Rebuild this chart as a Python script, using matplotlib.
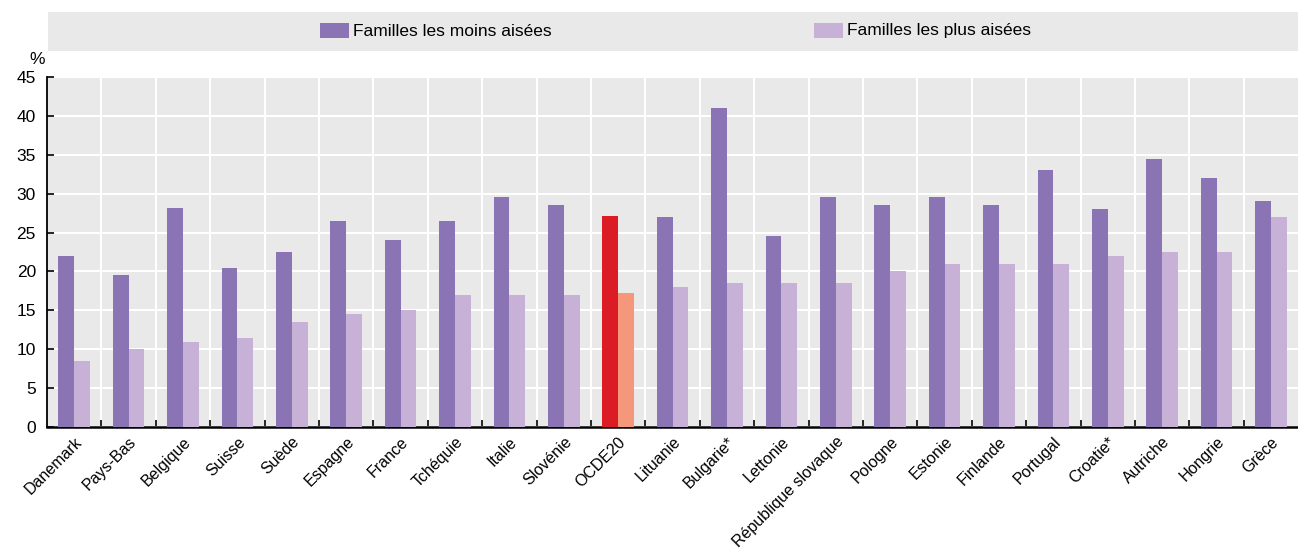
import matplotlib
matplotlib.use("Agg")
import matplotlib.pyplot as plt
from matplotlib.patches import Rectangle
import numpy as np

categories = ["Danemark", "Pays-Bas", "Belgique", "Suisse", "Suède", "Espagne", "France",
              "Tchéquie", "Italie", "Slovénie", "OCDE20", "Lituanie", "Bulgarie*", "Lettonie",
              "République slovaque", "Pologne", "Estonie", "Finlande", "Portugal", "Croatie*",
              "Autriche", "Hongrie", "Grèce"]
moins_aisees = [22, 19.5, 28.2, 20.5, 22.5, 26.5, 24, 26.5, 29.5, 28.5, 27.1, 27, 41,
                24.5, 29.5, 28.5, 29.5, 28.5, 33, 28, 34.5, 32, 29]
plus_aisees = [8.5, 10, 11, 11.5, 13.5, 14.5, 15, 17, 17, 17, 17.3, 18, 18.5,
               18.5, 18.5, 20, 21, 21, 21, 22, 22.5, 22.5, 27]
series_labels = ["Familles les moins aisées", "Familles les plus aisées"]
yticks = [0, 5, 10, 15, 20, 25, 30, 35, 40, 45]

plt.rcParams['font.family'] = ['Liberation Sans', 'DejaVu Sans']

W, H = 1298, 554
fig = plt.figure(figsize=(W / 100, H / 100), dpi=100)

def fx(px):
    return px / W

def fy(py):
    return 1 - py / H

left_px, right_px, top_px, bot_px = 47, 1298, 76.7, 427.3
ax = fig.add_axes([fx(left_px), fy(bot_px), fx(right_px - left_px), (bot_px - top_px) / H])

c_dark = "#8B74B4"
c_light = "#C8B1D6"
c_oecd_dark = "#DC1C24"
c_oecd_light = "#F4977B"

x = np.arange(len(categories))
bw = 0.29
cols_dark = [c_oecd_dark if c == "OCDE20" else c_dark for c in categories]
cols_light = [c_oecd_light if c == "OCDE20" else c_light for c in categories]
ax.bar(x - bw / 2, moins_aisees, width=bw, color=cols_dark, zorder=3)
ax.bar(x + bw / 2, plus_aisees, width=bw, color=cols_light, zorder=3)

ax.set_facecolor("#E9E9E9")
ax.set_ylim(0, 45)
cell = 54.4
ax.set_xlim(-0.5, -0.5 + (right_px - left_px) / cell)
ax.set_yticks(yticks)
ax.set_xticks(x)
ax.set_xticklabels(categories, rotation=45, ha='right', va='top', rotation_mode='anchor', fontsize=11.5)
ax.set_xticks(np.arange(len(categories) - 1) + 0.5, minor=True)
ax.tick_params(axis='x', which='major', length=0, pad=5)
ax.tick_params(axis='x', which='minor', direction='in', length=5, width=1.2, color='black')
ax.tick_params(axis='y', which='major', direction='in', length=5, width=1.2, labelsize=12.5, pad=8)
ax.grid(True, axis='y', which='major', color='white', linewidth=1.5, zorder=0)
ax.grid(True, axis='x', which='minor', color='white', linewidth=1.5, zorder=0)
ax.set_axisbelow(True)
for s in ['top', 'right']:
    ax.spines[s].set_visible(False)
ax.spines['left'].set_linewidth(1.3)
ax.spines['bottom'].set_linewidth(1.8)

fig.text(fx(29), fy(59), "%", fontsize=12.5, ha='left', va='center')

# legend band
fig.patches.append(Rectangle((fx(48), fy(51)), fx(1298 - 48), 39 / H, transform=fig.transFigure,
                             facecolor="#E9E9E9", edgecolor='none', zorder=0))
for xp, col, lab in [(320, c_dark, series_labels[0]), (814, c_light, series_labels[1])]:
    fig.patches.append(Rectangle((fx(xp), fy(38)), fx(29), 15 / H, transform=fig.transFigure,
                                 facecolor=col, edgecolor='none', zorder=1))
    fig.text(fx(xp + 33), fy(31), lab, fontsize=12.5, ha='left', va='center')

fig.savefig("out.png", dpi=100)
